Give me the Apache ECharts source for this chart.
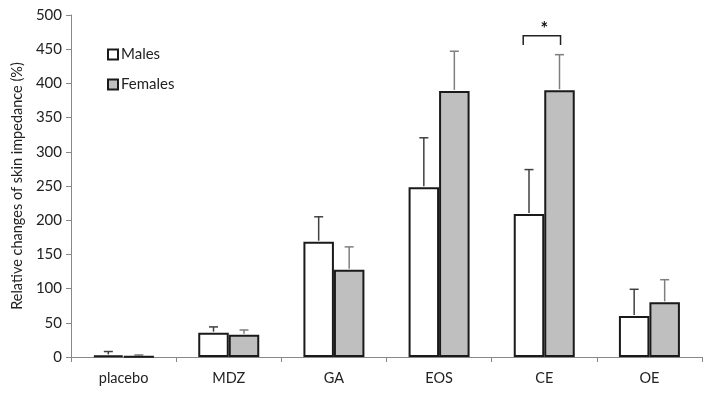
<!DOCTYPE html>
<html>
<head>
<meta charset="utf-8">
<script src="https://cdn.jsdelivr.net/npm/echarts@6/dist/echarts.min.js"></script>
<style>
  html, body { margin: 0; padding: 0; background: #fff; }
  #main { width: 712px; height: 399px; }
</style>
</head>
<body>
<div id="main"></div>
<script>
// groups on the x axis
const categories = ['placebo', 'MDZ', 'GA', 'EOS', 'CE', 'OE'];
// mean values (%)
const males = [2.3, 35.5, 168.5, 248, 209, 60];
const females = [0.5, 32.5, 127.5, 389, 390, 80];
// upper end of the error bars (%)
const malesErr = [8, 44, 205, 320.5, 274, 99];
const femalesErr = [3, 39.5, 161, 447, 442, 113];
// significance bracket over CE
const sigCategory = 4;
const sigLevel = [456, 469.5, 484];

const font = 'Lato, "Open Sans", sans-serif';
const gapPct = 42;

const chart = echarts.init(document.getElementById('main'));

// error bar drawn above one bar of the pair (side -1 = males, 1 = females)
function errRender(means, side, color) {
  return function (params, api) {
    const i = api.value(0);
    const top = api.coord([i, api.value(1)]);
    const base = api.coord([i, means[i]]);
    const band = api.size([1, 0])[0];
    const barW = band * (1 - gapPct / 100) / 2;
    const x = top[0] + side * barW / 2;
    const cap = 4.5;
    return {
      type: 'group',
      children: [
        { type: 'line', shape: { x1: x, y1: base[1] - 1, x2: x, y2: top[1] }, style: { stroke: color, lineWidth: 1.5 } },
        { type: 'line', shape: { x1: x - cap, y1: top[1], x2: x + cap, y2: top[1] }, style: { stroke: color, lineWidth: 1.5 } }
      ]
    };
  };
}

const option = {
  animation: false,
  backgroundColor: '#fff',
  grid: { left: 71, right: 10, top: 15, bottom: 42 },
  legend: {
    orient: 'vertical',
    left: 102,
    top: 42,
    itemGap: 15,
    itemWidth: 10,
    itemHeight: 10,
    icon: 'rect',
    textStyle: { fontFamily: font, fontSize: 15, color: '#222', padding: [0, 0, 0, -2] },
    data: ['Males', 'Females']
  },
  xAxis: {
    type: 'category',
    data: categories,
    axisLine: { lineStyle: { color: '#888', width: 1 } },
    axisTick: { show: true, alignWithLabel: false, length: 5, lineStyle: { color: '#888' } },
    axisLabel: { fontFamily: font, fontSize: 14.5, color: '#222', margin: 14 }
  },
  yAxis: {
    type: 'value',
    min: 0,
    max: 500,
    interval: 50,
    name: 'Relative changes of skin impedance (%)',
    nameLocation: 'middle',
    nameGap: 46,
    nameTextStyle: { fontFamily: font, fontSize: 14.5, color: '#222' },
    axisLine: { show: true, lineStyle: { color: '#888' } },
    axisTick: { show: true, inside: false, length: 5, lineStyle: { color: '#888' } },
    splitLine: { show: false },
    axisLabel: { fontFamily: font, fontSize: 15, color: '#222', margin: 9 }
  },
  series: [
    {
      name: 'Males',
      type: 'bar',
      data: males,
      barGap: '0%',
      barCategoryGap: gapPct + '%',
      itemStyle: { color: '#fff', borderColor: '#1a1a1a', borderWidth: 2 }
    },
    {
      name: 'Females',
      type: 'bar',
      data: females,
      barGap: '0%',
      barCategoryGap: gapPct + '%',
      itemStyle: { color: '#bfbfbf', borderColor: '#1a1a1a', borderWidth: 2 }
    },
    {
      type: 'custom',
      silent: true,
      z: 1,
      data: malesErr.map((v, i) => [i, v]),
      renderItem: errRender(males, -1, '#404040')
    },
    {
      type: 'custom',
      silent: true,
      z: 1,
      data: femalesErr.map((v, i) => [i, v]),
      renderItem: errRender(females, 1, '#7f7f7f')
    },
    {
      type: 'custom',
      silent: true,
      data: [[sigCategory, sigLevel[1]]],
      renderItem: function (params, api) {
        const i = api.value(0);
        const p = api.coord([i, sigLevel[1]]);
        const leg = api.coord([i, sigLevel[0]]);
        const star = api.coord([i, sigLevel[2]]);
        const band = api.size([1, 0])[0];
        const x1 = p[0] - band * 0.2;
        const x2 = p[0] + band * 0.155;
        return {
          type: 'group',
          children: [
            { type: 'polyline', shape: { points: [[x1, leg[1]], [x1, p[1]], [x2, p[1]], [x2, leg[1]]] }, style: { stroke: '#222', lineWidth: 1.5, fill: null } },
            { type: 'text', x: p[0], y: star[1] + 3, style: { text: '*', font: 'bold 18px ' + font, fill: '#111', align: 'center', verticalAlign: 'middle' } }
          ]
        };
      }
    }
  ]
};

chart.setOption(option);
</script>
</body>
</html>
